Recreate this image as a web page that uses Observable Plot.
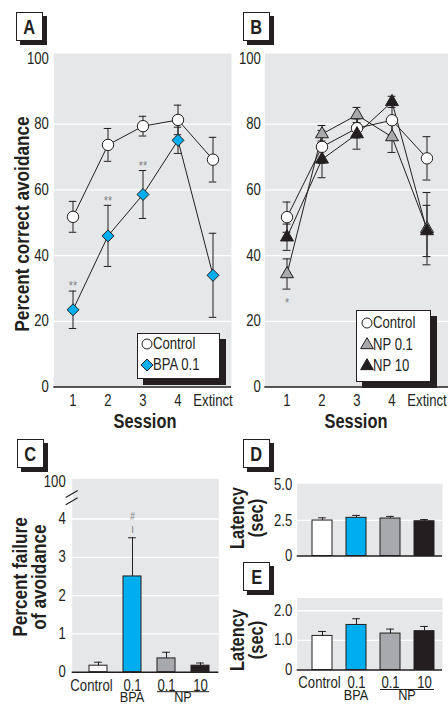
<!DOCTYPE html>
<html>
<head>
<meta charset="utf-8">
<script src="https://cdn.jsdelivr.net/npm/d3@7"></script>
<script src="https://cdn.jsdelivr.net/npm/@observablehq/plot@0.6"></script>
<style>
html,body{margin:0;padding:0;background:#fff;}
#fig{position:relative;width:448px;height:704px;overflow:hidden;background:#fff;color:#231f20;
 font-family:"Liberation Sans",Arial,sans-serif;}
#fig > svg{position:absolute;overflow:visible;}
.letter{position:absolute;box-sizing:border-box;width:27px;height:29px;border:1px solid #231f20;background:#fff;
 box-shadow:4px 4px 0 #231f20;font-weight:bold;font-size:20px;line-height:28px;text-align:center;}
.letter span{display:inline-block;transform:scaleX(0.82);}
.ttl{position:absolute;white-space:nowrap;font-weight:bold;text-align:center;transform:translate(-50%,-50%) rotate(-90deg) scaleX(0.82);}
.xt{position:absolute;white-space:nowrap;font-weight:bold;transform:translate(-50%,-50%) scaleX(0.82);}
.legend{position:absolute;box-sizing:border-box;border:1px solid #231f20;background:#fff;box-shadow:6px 6px 0 #231f20;font-size:16px;}
.legend .lt{position:absolute;white-space:nowrap;line-height:16px;transform-origin:0 50%;transform:translateY(-50%) scaleX(0.82);}
</style>
</head>
<body>
<div id="fig"></div>
<script>
// ---------- data ----------
const sessions = ["1", "2", "3", "4", "Extinct"];
const axisTicksAB = [0, 20, 40, 60, 80, 100];

// Panel A
const controlA = [51.8, 73.7, 79.4, 81.3, 69.2];
const controlASem = [4.7, 5.0, 3.0, 4.5, 6.8];
const bpaA = [23.5, 46.0, 58.6, 75.1, 34.0];
const bpaASem = [5.7, 9.3, 7.3, 4.0, 12.8];
const bpaASig = ["**", "**", "**", "", ""];

// Panel B
const controlB = [51.7, 73.1, 78.8, 81.2, 69.6];
const controlBSem = [4.6, 5.0, 3.0, 4.5, 6.6];
const np01B = [34.4, 77.0, 82.8, 76.1, 48.2];
const np01BSem = [4.6, 2.6, 2.3, 4.7, 11.0];
const np01BSig = ["*", "", "", "", ""];
const np10B = [45.6, 69.3, 77.0, 86.8, 47.5];
const np10BSem = [4.0, 5.6, 4.6, 1.7, 7.8];

// Panels C, D, E
const groups = ["Control", "BPA 0.1", "NP 0.1", "NP 10"];
const groupTick = ["Control", "0.1", "0.1", "10"];
const failC = [0.17, 2.50, 0.36, 0.17];
const failCSem = [0.09, 1.01, 0.16, 0.07];
const failCSig = ["", "#", "", ""];
const ticksC = [0, 1, 2, 3, 4];
const topTickC = 4.97;      // position of the broken-axis "100" label
const topTickCLabel = "100";
const breakC = [4.64, 4.45];
const latD = [2.49, 2.68, 2.63, 2.44];
const latDSem = [0.19, 0.17, 0.15, 0.12];
const ticksD = [0, 2.5, 5];
const latE = [1.15, 1.52, 1.23, 1.31];
const latESem = [0.15, 0.21, 0.15, 0.16];
const ticksE = [0, 1, 2];

// ---------- styles ----------
const INK = "#231f20", BG = "#e6e7e8", BLUE = "#00aeef", GREY = "#a7a9ac", SIG = "#808285";
const groupColors = ["#ffffff", BLUE, GREY, INK];
const FONT = '"Liberation Sans",Arial,sans-serif';
const NARROW = 0.82;
const STYLE = {fontFamily: FONT, fontSize: "16px", color: INK, background: "transparent", overflow: "visible"};
const fig = document.getElementById("fig");

function dims(box, frame) {
  return {width: box.w, height: box.h,
    marginLeft: frame.l - box.x, marginRight: box.x + box.w - frame.r,
    marginTop: frame.t - box.y, marginBottom: box.y + box.h - frame.b};
}
function condense(svg) {
  svg.querySelectorAll("text").forEach(t => {
    const spans = t.querySelectorAll("tspan");
    const targets = spans.length ? Array.from(spans) : [t];
    for (const el of targets) {
      const len = el.getComputedTextLength();
      if (len > 0) { el.setAttribute("textLength", (len * NARROW).toFixed(2)); el.setAttribute("lengthAdjust", "spacingAndGlyphs"); }
    }
  });
}
function mount(svg, box) { svg.style.left = box.x + "px"; svg.style.top = box.y + "px"; fig.appendChild(svg); return svg; }

function sessionPanel(cfg) {
  const d = dims(cfg.box, cfg.frame);
  const bw = (cfg.frame.r - cfg.frame.l - cfg.inset[0] - cfg.inset[1]) / sessions.length;
  const cap = (bw - 8) / 2;
  const rows = cfg.series.flatMap(s => sessions.map((session, i) => ({
    session, group: s.name, mean: s.mean[i], sem: s.sem[i], sig: s.sig ? s.sig[i] : ""})));
  const sigRows = rows.filter(r => r.sig);
  const plot = Plot.plot({
    ...d, style: STYLE,
    x: {type: "band", domain: sessions, padding: 0, insetLeft: cfg.inset[0], insetRight: cfg.inset[1], axis: null},
    y: {domain: [0, 100], insetTop: 5, axis: null},
    marks: [
      Plot.frame({fill: BG, stroke: "none"}),
      Plot.ruleY(axisTicksAB.filter(v => v > 0 && v < 100), {stroke: "white", strokeWidth: 1.3}),
      Plot.ruleX(rows, {x: "session", y1: r => r.mean - r.sem, y2: r => r.mean + r.sem, stroke: INK, strokeWidth: 1}),
      Plot.tickY(rows, {x: "session", y: r => r.mean + r.sem, stroke: INK, strokeWidth: 1, insetLeft: cap, insetRight: cap}),
      Plot.tickY(rows, {x: "session", y: r => r.mean - r.sem, stroke: INK, strokeWidth: 1, insetLeft: cap, insetRight: cap}),
      Plot.line(rows, {x: "session", y: "mean", z: "group", stroke: INK, strokeWidth: 1}),
      ...cfg.series.map(s => Plot.dot(rows.filter(r => r.group === s.name),
        {x: "session", y: "mean", symbol: s.symbol, r: s.r, fill: s.fill, stroke: INK, strokeWidth: 1})),
      Plot.text(sigRows, {x: "session", y: r => cfg.sigBelow ? r.mean - r.sem : r.mean + r.sem,
        text: "sig", dy: cfg.sigBelow ? 14 : -5, fill: SIG, fontSize: 13}),
      Plot.ruleY([0], {stroke: INK, strokeWidth: 1.6}),
      Plot.axisY({ticks: axisTicksAB, tickSize: 0, tickPadding: cfg.yPad, fontSize: 16, label: null, line: true, stroke: INK, strokeWidth: 1.6}),
      Plot.axisX({tickSize: 0, tickPadding: 8, fontSize: 16, label: null})
    ]
  });
  mount(plot, cfg.box);
  condense(plot);
  return plot;
}

function barPanel(cfg) {
  const d = dims(cfg.box, cfg.frame);
  const rows = groups.map((g, i) => ({group: g, mean: cfg.mean[i], sem: cfg.sem[i], sig: cfg.sig ? cfg.sig[i] : ""}));
  const bw = (cfg.frame.r - cfg.frame.l - cfg.insetL) / groups.length * (1 - cfg.padInner);
  const cap = (bw - 8) / 2;
  const sigRows = rows.filter(r => r.sig);
  const marks = [
    Plot.frame({fill: BG, stroke: "none"}),
    Plot.ruleY(cfg.grid, {stroke: "white", strokeWidth: 1.3}),
    Plot.ruleX(rows, {x: "group", y1: "mean", y2: r => r.mean + r.sem, stroke: INK, strokeWidth: 1}),
    Plot.tickY(rows, {x: "group", y: r => r.mean + r.sem, stroke: INK, strokeWidth: 1, insetLeft: cap, insetRight: cap}),
    Plot.barY(rows, {x: "group", y: "mean", fill: "group", stroke: INK, strokeWidth: 1}),
    Plot.text(sigRows, {x: "group", y: r => r.mean + r.sem, text: "sig", dy: -21, fontSize: 10, fill: SIG}),
    Plot.text(sigRows, {x: "group", y: r => r.mean + r.sem, text: () => "|", dy: -9, fontSize: 8, fill: INK}),
    Plot.ruleY([0], {stroke: INK, strokeWidth: 1.6}),
    Plot.axisY({ticks: cfg.ticks, tickFormat: cfg.tickFormat, tickSize: 0, tickPadding: cfg.yPad, fontSize: 16,
      label: null, line: true, stroke: INK, strokeWidth: 1.6})
  ];
  if (cfg.xLabels) {
    const fmt = g => groupTick[groups.indexOf(g)];
    marks.push(Plot.axisX({ticks: groups.slice(1), tickSize: 0, tickPadding: 7, fontSize: 16, label: null, tickFormat: fmt}));
    marks.push(Plot.axisX({ticks: groups.slice(0, 1), tickSize: 0, tickPadding: 7, fontSize: 16, label: null, tickFormat: fmt, dx: cfg.controlDx}));
  }
  const plot = Plot.plot({
    ...d, style: STYLE,
    x: {type: "band", domain: groups, paddingInner: cfg.padInner, paddingOuter: cfg.padInner / 2, insetLeft: cfg.insetL, axis: null},
    y: {domain: cfg.domain, axis: null},
    color: {domain: groups, range: groupColors},
    marks
  });
  mount(plot, cfg.box);
  if (cfg.xLabels) {
    const sx = plot.scale("x");
    const bwid = sx.bandwidth;
    const base = d.height - d.marginBottom;
    const svg = d3.select(plot);
    const g = svg.append("g").attr("font-size", 15.5).attr("fill", INK).attr("text-anchor", "middle");
    g.append("text").attr("x", sx.apply("BPA 0.1") + bwid / 2).attr("y", base + 30).text("BPA");
    const npL = sx.apply("NP 0.1"), npR = sx.apply("NP 10") + bwid;
    g.append("text").attr("x", (npL + npR) / 2).attr("y", base + 30).text("NP");
    svg.append("line").attr("x1", npL).attr("x2", npR).attr("y1", base + 20).attr("y2", base + 20)
      .attr("stroke", INK).attr("stroke-width", 1);
  }
  condense(plot);
  return plot;
}

// ---------- panels ----------
sessionPanel({
  box: {x: 0, y: 45, w: 234, h: 370}, frame: {l: 53.3, t: 53, r: 231, b: 386.5}, inset: [0, 0], yPad: 5,
  series: [
    {name: "Control", mean: controlA, sem: controlASem, symbol: "circle", r: 5.7, fill: "white"},
    {name: "BPA 0.1", mean: bpaA, sem: bpaASem, sig: bpaASig, symbol: "diamond2", r: 5.4, fill: BLUE}
  ]
});
sessionPanel({
  box: {x: 234, y: 45, w: 214, h: 370}, frame: {l: 264.3, t: 53, r: 448, b: 386.5}, inset: [4, 4], yPad: 4, sigBelow: true,
  series: [
    {name: "Control", mean: controlB, sem: controlBSem, symbol: "circle", r: 5.7, fill: "white"},
    {name: "NP 0.1", mean: np01B, sem: np01BSem, sig: np01BSig, symbol: "triangle", r: 4.8, fill: GREY},
    {name: "NP 10", mean: np10B, sem: np10BSem, symbol: "triangle", r: 4.8, fill: INK}
  ]
});

const plotC = barPanel({
  box: {x: 30, y: 470, w: 192, h: 234}, frame: {l: 71.7, t: 478.3, r: 218.3, b: 671.7},
  domain: [0, 5.05], insetL: 9, padInner: 0.47, yPad: 6.5, controlDx: -7,
  mean: failC, sem: failCSem, sig: failCSig, grid: ticksC.filter(v => v > 0),
  ticks: [...ticksC, topTickC], tickFormat: v => v === topTickC ? topTickCLabel : String(v), xLabels: true
});
// broken-axis marks on C
{
  const sy = plotC.scale("y");
  const xl = 71.7 - 30;
  const svg = d3.select(plotC);
  const y0 = sy.apply(breakC[0]), y1 = sy.apply(breakC[1]);
  svg.append("rect").attr("x", xl - 1.5).attr("y", y0).attr("width", 2.6).attr("height", y1 - y0).attr("fill", "white");
  for (const v of breakC) {
    const y = sy.apply(v);
    svg.append("line").attr("x1", xl - 6).attr("y1", y + 3.5).attr("x2", xl + 6).attr("y2", y - 3.5)
      .attr("stroke", INK).attr("stroke-width", 1.2);
  }
}

const fmt1 = v => v === 0 ? "0" : v.toFixed(1);
barPanel({
  box: {x: 260, y: 475, w: 188, h: 90}, frame: {l: 296.7, t: 483.3, r: 442, b: 555.5},
  domain: [0, 5.07], insetL: 7.8, padInner: 0.41, yPad: 5,
  mean: latD, sem: latDSem, grid: [2.5], ticks: ticksD, tickFormat: fmt1, xLabels: false
});
barPanel({
  box: {x: 260, y: 590, w: 188, h: 114}, frame: {l: 296.7, t: 597.5, r: 442, b: 669.5},
  domain: [0, 2.43], insetL: 7.8, padInner: 0.41, yPad: 5, controlDx: -3,
  mean: latE, sem: latESem, grid: [1, 2], ticks: ticksE, tickFormat: fmt1, xLabels: true
});

// ---------- titles, panel letters, legends ----------
function addDiv(cls, html, style) {
  const el = document.createElement("div"); el.className = cls; el.innerHTML = html;
  Object.assign(el.style, style); fig.appendChild(el); return el;
}
addDiv("letter", "<span>A</span>", {left: "16px", top: "12px"});
addDiv("letter", "<span>B</span>", {left: "243px", top: "12px"});
addDiv("letter", "<span>C</span>", {left: "17px", top: "439px"});
addDiv("letter", "<span>D</span>", {left: "243px", top: "439px"});
addDiv("letter", "<span>E</span>", {left: "243px", top: "562px"});
addDiv("ttl", "Percent correct avoidance", {left: "21px", top: "224px", fontSize: "21px", lineHeight: "21px"});
addDiv("ttl", "Percent failure<br>of avoidance", {left: "29px", top: "577px", fontSize: "21px", lineHeight: "18.5px"});
addDiv("ttl", "Latency<br>(sec)", {left: "246px", top: "518px", fontSize: "20px", lineHeight: "18.5px"});
addDiv("ttl", "Latency<br>(sec)", {left: "246px", top: "640px", fontSize: "20px", lineHeight: "18.5px"});
addDiv("xt", "Session", {left: "145px", top: "421px", fontSize: "20px", lineHeight: "20px"});
addDiv("xt", "Session", {left: "356px", top: "421px", fontSize: "20px", lineHeight: "20px"});

function legend(left, top, w, h, items) {
  const box = addDiv("legend", "", {left: left + "px", top: top + "px", width: w + "px", height: h + "px"});
  for (const it of items) {
    const s = d3.create("svg").attr("width", 16).attr("height", 16)
      .style("position", "absolute").style("left", (it.sx - 8) + "px").style("top", (it.cy - 8) + "px");
    s.append("path").attr("transform", "translate(8,8)").attr("d", d3.symbol(it.type, it.size)())
      .attr("fill", it.fill).attr("stroke", INK).attr("stroke-width", 1);
    box.appendChild(s.node());
    const t = document.createElement("div"); t.className = "lt"; t.textContent = it.label;
    t.style.left = it.tx + "px"; t.style.top = it.cy + "px"; box.appendChild(t);
  }
}
legend(136.7, 333.3, 83.3, 46, [
  {label: "Control", type: d3.symbolCircle, size: 78.5, fill: "white", sx: 9, tx: 15, cy: 9.7},
  {label: "BPA 0.1", type: d3.symbolDiamond2, size: 92, fill: BLUE, sx: 9, tx: 15, cy: 30.7}
]);
legend(356, 310, 74.7, 71.7, [
  {label: "Control", type: d3.symbolCircle, size: 78.5, fill: "white", sx: 10, tx: 16, cy: 12.3},
  {label: "NP 0.1", type: d3.symbolTriangle, size: 70, fill: GREY, sx: 10, tx: 16, cy: 34},
  {label: "NP 10", type: d3.symbolTriangle, size: 70, fill: INK, sx: 10, tx: 16, cy: 55}
]);
</script>
</body>
</html>
